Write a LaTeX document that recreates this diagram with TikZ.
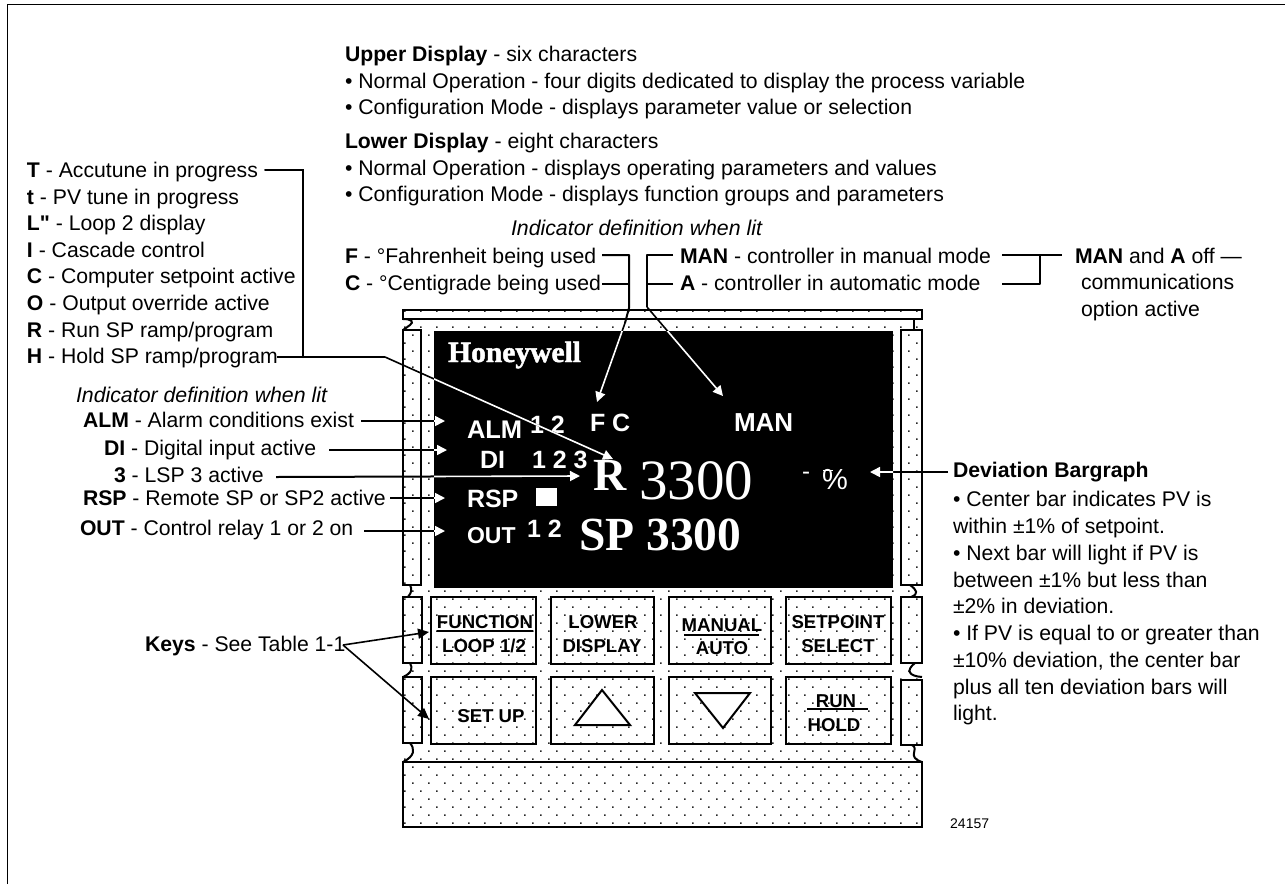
\documentclass[tikz,border=0pt]{standalone}
\usepackage{fontspec}
\setmainfont{Liberation Sans}
\newfontfamily\tms{Liberation Serif}
\newfontfamily\qf{Liberation Sans}
\newfontfamily\hwfont[FakeBold=1.6]{Liberation Serif}
\usetikzlibrary{arrows.meta}
\newcommand{\fs}[1]{\fontsize{#1}{#1}\selectfont}
\tikzset{
  lab/.style={anchor=base west,inner sep=0pt,outer sep=0pt,font=\fs{21.2},text=black},
  disp/.style={anchor=base west,inner sep=0pt,outer sep=0pt,font=\fs{25}\bfseries,text=white},
  keylab/.style={anchor=base,inner sep=0pt,outer sep=0pt,font=\fs{18.6}\bfseries,text=black},
  outline/.style={draw=black,line width=2pt},
  wire/.style={draw=black,line width=2pt},
  thinwire/.style={draw=black,line width=1.6pt},
  litwire/.style={draw=white,line width=1.6pt},
  whitetip/.style={-{Triangle[length=10pt,width=10pt,fill=white]}},
  blacktip/.style={-{Triangle[length=11pt,width=10pt]}}
}
\begin{document}
\begin{tikzpicture}[x=1pt,y=-1pt]
\useasboundingbox (0,0) rectangle (1285,884);
% frame
\coordinate (fa) at (7.5,884);
\coordinate (fb) at (7.5,4.5);
\coordinate (fc) at (1285,4.5);
\draw[draw=black,line width=1.3pt] (fa) -- (fb) -- (fc);

% stipple
\begin{scope}
\clip (403,310) rectangle (922,827);
\fill[black!85] \foreach \j in {0,...,65} {
   \foreach \k in {-2,...,32} {
     ({404.7+16*\k+8*mod(\j,2)-0.7},{311+8*\j-0.7}) rectangle ++(1.5,1.5)
   }
};
\end{scope}

% device body
\fill[black] (434,331) rectangle (893,588);
\draw[outline] (403,310) rectangle (922,319);
\draw[outline] (403,330) -- (421,330) -- (421,585) -- (403,585) -- cycle;
\draw[outline] (403,597) rectangle (422,663);
\draw[outline] (403,677) rectangle (422,743);
\draw[outline] (901,330) -- (922,330) -- (922,585) -- (901,585) -- cycle;
\draw[outline] (901,597) rectangle (922,663);
\draw[outline] (901,680) rectangle (922,745);
\draw[outline] (403,762) rectangle (922,827);
% wiggles
\draw[outline] (403,319) .. controls (412,319) and (414,322) .. (410,325) .. controls (407,327) and (405,329) .. (403,330);
\draw[outline] (914,319) -- (914,330);
\draw[outline] (410,585) .. controls (412,589) and (412,592) .. (408,597);
\draw[outline] (410,663) .. controls (413,668) and (412,673) .. (403,677);
\draw[outline] (410,743) .. controls (415,749) and (415,756) .. (403,762);
\draw[outline] (910,585) .. controls (917,590) and (919,594) .. (911,597);
\draw[outline] (915,663) .. controls (906,670) and (908,676) .. (922,677);
\draw[outline] (912,745) .. controls (920,749) and (906,757) .. (922,762);

% keys
\draw[outline] (431,597) rectangle (536,664);
\draw[outline] (551,597) rectangle (654,664);
\draw[outline] (669,597) rectangle (771,664);
\draw[outline] (786,597) rectangle (891,664);
\draw[outline] (431,677) rectangle (536,744);
\draw[outline] (551,677) rectangle (654,744);
\draw[outline] (669,677) rectangle (771,744);
\draw[outline] (786,677) rectangle (891,744);
\draw[outline,fill=white] (602,690) -- (630,725) -- (575,725) -- cycle;
\draw[outline,fill=white] (695,693) -- (750,693) -- (723,728) -- cycle;

\node[keylab] (kfn) at (485,628) {FUNCTION};
\node[keylab] (klo) at (484,652) {LOOP 1/2};
\node[keylab] (klw) at (603,628) {LOWER};
\node[keylab] (kds) at (602,652) {DISPLAY};
\node[keylab] (kma) at (722,631) {MANUAL};
\node[keylab] (kau) at (722,654) {AUTO};
\node[keylab] (ksp) at (838,628) {SETPOINT};
\node[keylab] (ksl) at (838,652) {SELECT};
\node[keylab] (ksu) at (491,722) {SET UP};
\node[keylab] (kru) at (836,707) {RUN};
\node[keylab] (kho) at (834,731) {HOLD};
\draw[draw=black,line width=1.2pt] (437,631) -- (533,631);
\draw[draw=black,line width=1.6pt] (684,635) -- (759,635);
\draw[draw=black,line width=1.6pt] (807,709) -- (868,709);

% display contents
\node[anchor=base west,inner sep=0pt,font=\fs{29.5}\hwfont\bfseries,text=white] (logo) at (448,362) {Honeywell};
\node[disp,font=\fs{25.5}\bfseries] (dalm) at (467,438) {ALM};
\node[disp] (dalmn) at (530,433) {1 2};
\node[disp] (dfc) at (590,431) {F C};
\node[disp,font=\fs{26}\bfseries] (dman) at (734,431) {MAN};
\node[disp] (ddi) at (480,468) {DI};
\node[disp] (ddin) at (532,468) {1 2 3};
\node[disp,font=\fs{46}\tms\bfseries] (dr) at (593,490) {R};
\node[disp,font=\fs{57}\tms\mdseries] (dpv) at (639,499) {3300};
\node[disp] (drsp) at (467,507) {RSP};
\node[draw=none,fill=white,minimum width=21pt,minimum height=18pt,inner sep=0pt,anchor=north west] (dsq) at (536,488) {};
\node[disp,font=\fs{23}\bfseries] (dout) at (467,543) {OUT};
\node[disp] (doutn) at (527,537) {1 2};
\node[disp,font=\fs{47.5}\tms\bfseries] (dsp) at (579,550) {SP 3300};
\node[disp,font=\fs{24}\mdseries] (dmin) at (802,479) {-};
\node[disp,font=\fs{29}\mdseries] (dpct) at (822,489) {\%};
\draw[draw=white,line width=1.4pt] (dpct.north west)++(1,1.5) -- ++(10,0);

% texts: top
\node[lab] (up) at (345,61) {\textbf{Upper Display} - six characters};
\node[lab] (up1) at (345,88) {• Normal Operation - four digits dedicated to display the process variable};
\node[lab] (up2) at (345,114) {• Configuration Mode - displays parameter value or selection};
\node[lab] (lo) at (345,148) {\textbf{Lower Display} - eight characters};
\node[lab] (lo1) at (345,175) {• Normal Operation - displays operating parameters and values};
\node[lab] (lo2) at (345,201.5) {• Configuration Mode - displays function groups and parameters};
\node[lab,font=\fs{21.3}\itshape] (ind1) at (511,235) {Indicator definition when lit};
\node[lab] (tf) at (345,263) {\textbf{F} - °Fahrenheit being used};
\node[lab] (tc) at (345,290) {\textbf{C} - °Centigrade being used};
\node[lab] (tman) at (680,263) {\textbf{MAN} - controller in manual mode};
\node[lab] (ta) at (680,290) {\textbf{A} - controller in automatic mode};
\node[lab] (off) at (1075,263) {\textbf{MAN} and \textbf{A} off —};
\node[lab] (off1) at (1081,289) {communications};
\node[lab] (off2) at (1081,316) {option active};

% texts: left
\node[lab] (l1) at (27,177) {\textbf{T} - Accutune in progress};
\node[lab] (l2) at (27,204) {\textbf{t} - PV tune in progress};
\node[lab] (l3) at (27,230) {\textbf{L{\qf"}} - Loop 2 display};
\node[lab] (l4) at (27,257) {\textbf{I} - Cascade control};
\node[lab] (l5) at (27,283) {\textbf{C} - Computer setpoint active};
\node[lab] (l6) at (27,310) {\textbf{O} - Output override active};
\node[lab] (l7) at (27,337) {\textbf{R} - Run SP ramp/program};
\node[lab] (l8) at (27,363) {\textbf{H} - Hold SP ramp/program};
\node[lab,font=\fs{21.3}\itshape] (ind2) at (76,402) {Indicator definition when lit};
\node[lab] (talm) at (83,427) {\textbf{ALM} - Alarm conditions exist};
\node[lab] (tdi) at (104,455) {\textbf{DI} - Digital input active};
\node[lab] (t3) at (114,482) {\textbf{3} - LSP 3 active};
\node[lab] (trsp) at (83,505) {\textbf{RSP} - Remote SP or SP2 active};
\node[lab] (tout) at (80,535) {\textbf{OUT} - Control relay 1 or 2 on};
\node[lab] (keys) at (145,651) {\textbf{Keys} - See Table 1-1};

% texts: right
\node[lab] (dv) at (953,477) {\textbf{Deviation Bargraph}};
\node[lab] (dv1) at (953,506) {• Center bar indicates PV is};
\node[lab] (dv2) at (953,533) {within ±1\% of setpoint.};
\node[lab] (dv3) at (953,560) {• Next bar will light if PV is};
\node[lab] (dv4) at (953,587) {between ±1\% but less than};
\node[lab] (dv5) at (953,613) {±2\% in deviation.};
\node[lab] (dv6) at (953,640) {• If PV is equal to or greater than};
\node[lab] (dv7) at (953,667) {±10\% deviation, the center bar};
\node[lab] (dv8) at (953,694) {plus all ten deviation bars will};
\node[lab] (dv9) at (953,720) {light.};
\node[anchor=base west,inner sep=0pt,font=\fs{14}] (code) at (950,828) {24157};

% connector anchors
\coordinate (cT) at (265,170); \coordinate (cTv) at (303,170);
\coordinate (cHs) at (277,357); \coordinate (cHv) at (303,357); \coordinate (cHb) at (385,357);
\coordinate (cHt) at (613,459);
\coordinate (cF) at (602,255); \coordinate (cFv) at (629,255); \coordinate (cFb) at (629,308);
\coordinate (cFk) at (625,323); \coordinate (cFt) at (597,402);
\coordinate (cC) at (602,284); \coordinate (cCv) at (629,284);
\coordinate (cM) at (673,255); \coordinate (cMv) at (647,255); \coordinate (cMb) at (647,307);
\coordinate (cMt) at (723,396);
\coordinate (cA) at (673,284); \coordinate (cAv) at (647,284);
\coordinate (cO1) at (1002,255); \coordinate (cO2) at (1062,255); \coordinate (cOv) at (1040,255);
\coordinate (cO3) at (1002,284); \coordinate (cOb) at (1040,284);
\coordinate (aA1) at (361,421); \coordinate (aA2) at (445,421);
\coordinate (aD1) at (329,450); \coordinate (aD2) at (447,450);
\coordinate (a31) at (276,477); \coordinate (a32) at (580,476);
\coordinate (aR1) at (390,498); \coordinate (aR2) at (445,498);
\coordinate (aO1) at (364,531); \coordinate (aO2) at (445,531);
\coordinate (aB1) at (948,472); \coordinate (aB2) at (870,472);
\coordinate (kS) at (343,645); \coordinate (kT1) at (429,632); \coordinate (kT2) at (429,719);

% black connectors
\draw[wire,line cap=round] (cT) -- (cTv) -- (cHv);
\draw[wire] (cHs) -- (cHb);
\draw[thinwire] (cHb) -- (cHt);
\draw[wire,line join=round] (cF) -- (cFv) -- (cFb) -- (cFk);
\draw[wire] (cC) -- (cCv);
\draw[thinwire] (cFk) -- (cFt);
\draw[wire,line join=round] (cM) -- (cMv) -- (cMb);
\draw[wire] (cA) -- (cAv);
\draw[thinwire] (cMb) -- (cMt);
\draw[wire] (cO1) -- (cO2);
\draw[wire,line join=round] (cOv) -- (cOb) -- (cO3);
\draw[wire] (aA1) -- (aA2);
\draw[wire] (aD1) -- (aD2);
\draw[wire] (a31) -- (a32);
\draw[wire] (aR1) -- (aR2);
\draw[wire] (aO1) -- (aO2);
\draw[thinwire] (aB1) -- (aB2);
\draw[thinwire,blacktip,fill=black] (kS) -- (kT1);
\draw[thinwire,blacktip,fill=black] (kS) -- (kT2);

% the parts lying on the black display are white
\begin{scope}
\clip (434,331) rectangle (893,588);
\draw[litwire,whitetip] (cHb) -- (cHt);
\draw[litwire,whitetip] (cFk) -- (cFt);
\draw[litwire,whitetip] (cMb) -- (cMt);
\draw[litwire,whitetip] (aA1) -- (aA2);
\draw[litwire,whitetip] (aD1) -- (aD2);
\draw[litwire,whitetip] (a31) -- (a32);
\draw[litwire,whitetip] (aR1) -- (aR2);
\draw[litwire,whitetip] (aO1) -- (aO2);
\draw[litwire,whitetip] (aB1) -- (aB2);
\end{scope}
\end{tikzpicture}
\end{document}
